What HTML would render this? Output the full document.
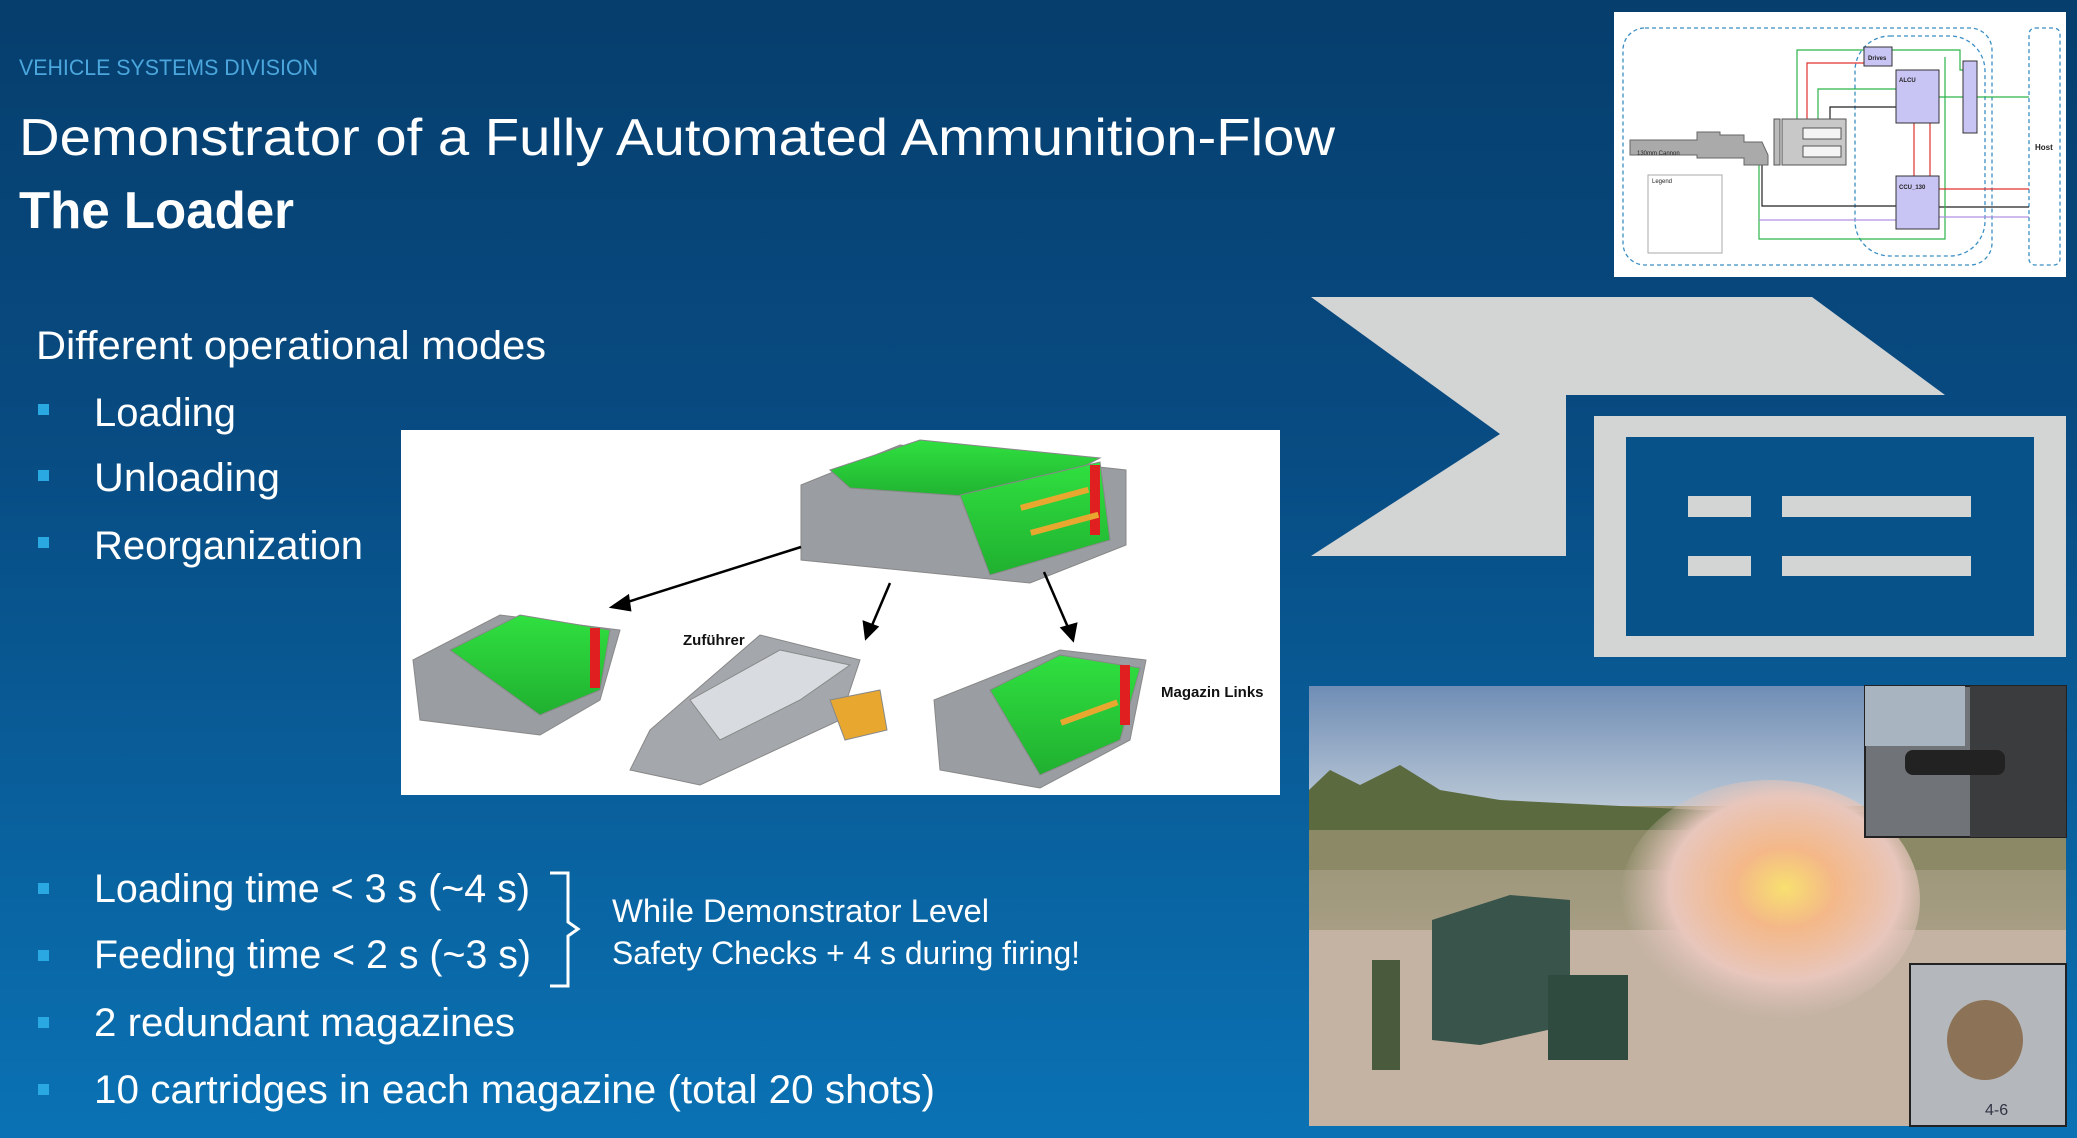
<!DOCTYPE html>
<html><head><meta charset="utf-8"><style>
html,body{margin:0;padding:0;width:2077px;height:1138px;overflow:hidden;background:#0a5a96}
svg{display:block}
text{font-family:"Liberation Sans",sans-serif}
</style></head><body>
<svg width="2077" height="1138" viewBox="0 0 2077 1138" xmlns="http://www.w3.org/2000/svg">
<defs>
<linearGradient id="bg" x1="0" y1="0" x2="0" y2="1">
<stop offset="0" stop-color="#063e6d"/><stop offset="0.4" stop-color="#084c83"/><stop offset="1" stop-color="#0a72b4"/></linearGradient>
<linearGradient id="sky" x1="0" y1="0" x2="0" y2="1"><stop offset="0" stop-color="#6f8db5"/><stop offset="1" stop-color="#b9c7d6"/></linearGradient>
<linearGradient id="field" x1="0" y1="0" x2="0" y2="1"><stop offset="0" stop-color="#8a8a62"/><stop offset="0.5" stop-color="#a39b80"/><stop offset="1" stop-color="#c9b9a8"/></linearGradient>
<radialGradient id="smoke" cx="0.55" cy="0.45" r="0.55"><stop offset="0" stop-color="#f8e070"/><stop offset="0.3" stop-color="#f4b888"/><stop offset="0.7" stop-color="#e8c6bc"/><stop offset="1" stop-color="#d8c2b8" stop-opacity="0"/></radialGradient>
<linearGradient id="grn" x1="0" y1="0" x2="0" y2="1"><stop offset="0" stop-color="#30e040"/><stop offset="1" stop-color="#20b030"/></linearGradient>
</defs>
<rect width="2077" height="1138" fill="url(#bg)"/>

<text x="19" y="75" font-size="22" fill="#4aa6dc" textLength="299" lengthAdjust="spacingAndGlyphs">VEHICLE SYSTEMS DIVISION</text>
<text x="19" y="155" font-size="52" fill="#fff" textLength="1316" lengthAdjust="spacingAndGlyphs">Demonstrator of a Fully Automated Ammunition-Flow</text>
<text x="19" y="228" font-size="52" font-weight="bold" fill="#fff" textLength="275" lengthAdjust="spacingAndGlyphs">The Loader</text>
<text x="36" y="359" font-size="40" fill="#fff" textLength="510" lengthAdjust="spacingAndGlyphs">Different operational modes</text>

<g fill="#2aa8e2">
<rect x="38" y="404" width="11" height="11"/><rect x="38" y="470" width="11" height="11"/><rect x="38" y="537" width="11" height="11"/>
<rect x="38" y="883" width="11" height="11"/><rect x="38" y="950" width="11" height="11"/><rect x="38" y="1017" width="11" height="11"/><rect x="38" y="1084" width="11" height="11"/>
</g>
<g fill="#fff" font-size="40">
<text x="94" y="426" textLength="142" lengthAdjust="spacingAndGlyphs">Loading</text>
<text x="94" y="491" textLength="186" lengthAdjust="spacingAndGlyphs">Unloading</text>
<text x="94" y="559" textLength="269" lengthAdjust="spacingAndGlyphs">Reorganization</text>
<text x="94" y="902" textLength="436" lengthAdjust="spacingAndGlyphs">Loading time &lt; 3 s (~4 s)</text>
<text x="94" y="968" textLength="437" lengthAdjust="spacingAndGlyphs">Feeding time &lt; 2 s (~3 s)</text>
<text x="94" y="1036" textLength="421" lengthAdjust="spacingAndGlyphs">2 redundant magazines</text>
<text x="94" y="1103" textLength="841" lengthAdjust="spacingAndGlyphs">10 cartridges in each magazine (total 20 shots)</text>
</g>
<path d="M550 873 H568 V922 L578 929 L568 936 V986 H550" fill="none" stroke="#fff" stroke-width="3"/>
<text x="612" y="922" font-size="32" fill="#fff" textLength="377" lengthAdjust="spacingAndGlyphs">While Demonstrator Level</text>
<text x="612" y="964" font-size="32" fill="#fff" textLength="468" lengthAdjust="spacingAndGlyphs">Safety Checks + 4 s during firing!</text>

<!-- chevron icon -->
<polygon points="1311,297 1812,297 1945,395 1566,395 1566,556 1311,556 1500,434" fill="#d3d4d4"/>
<rect x="1594" y="416" width="472" height="241" fill="#d3d4d4"/>
<rect x="1626" y="437" width="408" height="199" fill="#08528a"/>
<g fill="#d3d4d4"><rect x="1688" y="496" width="63" height="21"/><rect x="1782" y="496" width="189" height="21"/><rect x="1688" y="556" width="63" height="20"/><rect x="1782" y="556" width="189" height="20"/></g>

<!-- top right schematic -->
<rect x="1614" y="12" width="452" height="265" fill="#fff"/>
<g fill="none" stroke="#3b8fc4" stroke-width="1.3" stroke-dasharray="4,3">
<rect x="1623" y="28" width="369" height="237" rx="22"/>
<rect x="1855" y="36" width="130" height="220" rx="35"/>
<rect x="2029" y="28" width="31" height="237" rx="6"/>
</g>
<g stroke-width="1.2" fill="none">
<path d="M1797 120 V50 H1864 M1892 50 H1960 V70 H1963" stroke="#2db34a"/>
<path d="M1807 120 V63 H1864" stroke="#e03030"/>
<path d="M1818 120 V89 H1896 M1939 97 H2029" stroke="#2db34a"/>
<path d="M1830 120 V107 H1896" stroke="#222"/>
<path d="M1762 165 V206 H1896 M1939 207 H2029" stroke="#222"/>
<path d="M1759 165 V239 H1945 V57" stroke="#2db34a"/>
<path d="M1759 220 H1896 M1939 217 H2029" stroke="#b090e0"/>
<path d="M1939 189 H2029" stroke="#e03030"/>
<path d="M1914 123 V176 M1930 123 V176" stroke="#e03030"/>
</g>
<g fill="#c8c4f4" stroke="#333" stroke-width="1">
<rect x="1864" y="47" width="28" height="19"/><rect x="1896" y="70" width="43" height="53"/><rect x="1896" y="176" width="43" height="53"/><rect x="1963" y="61" width="14" height="72"/></g>
<rect x="1782" y="119" width="64" height="46" fill="#c8c8c8" stroke="#555"/>
<rect x="1774" y="119" width="6" height="46" fill="#bbb" stroke="#555"/>
<rect x="1803" y="128" width="38" height="11" fill="#f4f4f4" stroke="#555"/><rect x="1803" y="146" width="38" height="11" fill="#f4f4f4" stroke="#555"/>
<path d="M1630 140 H1697 V132 H1720 V135 H1744 V142 H1762 L1768 155 V165 H1744 V158 H1697 V155 H1630 Z" fill="#aaa" stroke="#666"/>
<rect x="1648" y="175" width="74" height="78" fill="#fff" stroke="#aaa"/>
<g font-size="6" fill="#222"><text x="1868" y="60" font-weight="bold">Drives</text><text x="1899" y="82" font-weight="bold">ALCU</text><text x="1899" y="189" font-weight="bold">CCU_130</text><text x="2035" y="150" font-weight="bold" font-size="8">Host</text><text x="1652" y="183">Legend</text><text x="1637" y="155">130mm Cannon</text></g>

<!-- loader image -->
<rect x="401" y="430" width="879" height="365" fill="#fff"/>
<g stroke="#888" stroke-width="1">
<polygon points="801,485 900,445 1126,470 1126,545 1030,583 801,560" fill="#9a9ea2"/>
<polygon points="830,470 920,440 1100,458 1020,500 850,488" fill="url(#grn)"/>
<polygon points="960,495 1100,462 1110,540 990,575" fill="url(#grn)"/>
<polygon points="413,660 500,615 620,630 600,700 540,735 420,720" fill="#9a9ea2"/>
<polygon points="450,650 520,615 610,630 600,690 540,715" fill="url(#grn)"/>
<polygon points="650,730 760,635 860,660 840,720 700,785 630,770" fill="#a4a8ac"/>
<polygon points="690,700 780,650 850,665 800,700 720,740" fill="#d8dce0"/>
<polygon points="830,700 880,690 887,730 845,740" fill="#e8a830"/>
<polygon points="934,700 1060,650 1146,660 1130,740 1040,788 940,770" fill="#9a9ea2"/>
<polygon points="990,690 1060,655 1140,668 1120,740 1040,775" fill="url(#grn)"/>
</g>
<g fill="#e02020">
<rect x="1090" y="465" width="10" height="70"/><rect x="590" y="628" width="10" height="60"/><rect x="1120" y="665" width="10" height="60"/>
</g>
<g fill="#e8a830"><rect x="1020" y="505" width="70" height="6" transform="rotate(-15 1020 505)"/><rect x="1030" y="530" width="70" height="6" transform="rotate(-15 1030 530)"/><rect x="1060" y="720" width="60" height="6" transform="rotate(-20 1060 720)"/></g>
<g stroke="#000" stroke-width="2.5" fill="#000">
<line x1="801" y1="547" x2="618" y2="605"/><polygon points="612,607 628,596 630,610"/>
<line x1="890" y1="583" x2="870" y2="630"/><polygon points="866,638 864,622 877,627"/>
<line x1="1044" y1="572" x2="1070" y2="632"/><polygon points="1073,640 1062,628 1076,624"/>
</g>
<text x="683" y="645" font-size="15" font-weight="bold" fill="#111">Zuführer</text>
<text x="1161" y="697" font-size="15" font-weight="bold" fill="#111">Magazin Links</text>

<!-- photo -->
<rect x="1309" y="686" width="757" height="440" fill="url(#field)"/>
<rect x="1309" y="686" width="757" height="120" fill="url(#sky)"/>
<path d="M1309 790 L1330 770 L1360 785 L1400 765 L1440 790 L1500 800 L1600 805 L1700 810 L1866 812 V835 H1309 Z" fill="#5c6a40"/>
<rect x="1309" y="830" width="757" height="40" fill="#8c8a66"/>
<rect x="1309" y="930" width="757" height="196" fill="#c4b2a2"/>
<ellipse cx="1770" cy="900" rx="150" ry="120" fill="url(#smoke)"/>
<polygon points="1432,920 1510,895 1570,900 1570,1025 1480,1045 1432,1040" fill="#39544a"/>
<rect x="1548" y="975" width="80" height="85" fill="#2f4a3e"/>
<rect x="1372" y="960" width="28" height="110" fill="#4a5a3c"/>
<rect x="1865" y="686" width="201" height="151" fill="#707478" stroke="#222" stroke-width="2"/>
<rect x="1865" y="686" width="100" height="60" fill="#a8b4c0"/>
<rect x="1970" y="686" width="96" height="151" fill="#3a3c3e"/>
<rect x="1905" y="750" width="100" height="25" rx="8" fill="#222"/>
<rect x="1910" y="964" width="156" height="162" fill="#b4b8bc" stroke="#222" stroke-width="2"/>
<ellipse cx="1985" cy="1040" rx="38" ry="40" fill="#8c7256"/>
<text x="1985" y="1115" font-size="16" fill="#334">4-6</text>
</svg>
</body></html>
